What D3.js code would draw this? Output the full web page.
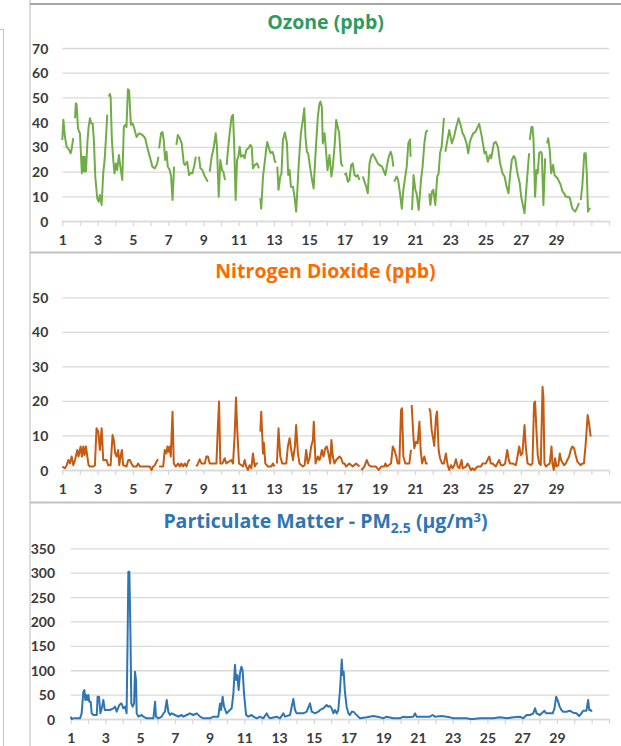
<!DOCTYPE html>
<html><head><meta charset="utf-8">
<script src="https://cdn.jsdelivr.net/npm/d3@7"></script>
<style>
html,body{margin:0;padding:0;background:#fff;}
svg{display:block;}
text{font-family:Lato,"Open Sans",sans-serif;}
</style></head>
<body>
<svg id="chart" width="621" height="746"></svg>
<script>
// ---------- DATA (day of month, hourly readings; null = missing) ----------
const dayTicks = d3.range(1, 33);
const dayLabels = [1,3,5,7,9,11,13,15,17,19,21,23,25,27,29];
const ozoneTicks = [0,10,20,30,40,50,60,70];
const no2Ticks = [0,10,20,30,40,50];
const pmTicks = [0,50,100,150,200,250,300,350];

const ozoneSeries = [
[1.00,32.8],[1.06,41],[1.15,34],[1.25,30],[1.40,28.7],[1.47,27.4],[1.53,29],[1.62,33.5],[1.67,null],
[1.72,41.6],[1.77,47.6],[1.81,47.3],[1.89,37.5],[1.96,36],[2.00,35.5],[2.11,19.3],[2.17,26],[2.23,20],[2.26,26],[2.34,20],[2.42,31.4],[2.49,38],[2.57,41.6],[2.64,39.5],[2.72,39.5],[2.79,32.8],[2.87,18],[2.98,9.2],[3.06,7.8],[3.13,10.5],[3.23,6.5],[3.32,19.3],[3.40,24.7],[3.47,32.8],[3.55,43],[3.60,null],
[3.64,50.3],[3.70,51.4],[3.74,50.3],[3.81,32.8],[3.89,24.7],[3.96,19.3],[4.04,23.3],[4.11,20.6],[4.21,26.7],[4.28,22.7],[4.40,16.6],[4.49,38],[4.57,38.9],[4.64,38],[4.72,53.3],[4.79,52.8],[4.89,38.9],[4.98,39.5],[5.06,38],[5.21,34],[5.36,35.5],[5.55,34.8],[5.70,33.5],[5.81,30],[5.96,26],[6.11,22],[6.25,21.3],[6.38,23.3],[6.45,26],[6.47,null],
[6.49,29.4],[6.60,35.5],[6.68,36],[6.75,32.8],[6.83,24.7],[6.91,28],[6.98,22],[7.09,20.6],[7.17,18],[7.25,8.5],[7.34,22],[7.40,null],
[7.47,30.8],[7.55,34.8],[7.66,33.5],[7.77,31.4],[7.89,23.3],[7.96,22.7],[8.08,24],[8.19,18.6],[8.30,19.5],[8.38,19.3],[8.49,22.7],[8.57,26],[8.66,null],
[8.75,26],[8.83,21.3],[8.94,20.6],[9.09,18],[9.25,15.9],[9.30,null],
[9.36,20],[9.47,26],[9.58,29.4],[9.70,35.5],[9.77,30],[9.87,9.8],[9.96,24.7],[10.06,20.6],[10.13,20],[10.23,16.6],[10.28,null],
[10.32,22.7],[10.42,30.8],[10.49,35.5],[10.60,42.2],[10.68,43],[10.75,30],[10.83,8.5],[10.91,24.7],[10.98,26],[11.06,30],[11.13,26],[11.25,26.7],[11.34,25.4],[11.43,28.7],[11.55,29.4],[11.66,30.8],[11.74,30],[11.81,21.3],[11.92,22.7],[12.04,23.3],[12.15,21.3],[12.19,null],
[12.23,9.2],[12.28,5],[12.38,18],[12.47,23.3],[12.57,29.4],[12.62,32],[12.72,29.4],[12.81,27.4],[12.91,28],[12.98,26.7],[13.06,24],[13.13,23.7],[13.16,null],
[13.19,22],[13.26,12.6],[13.36,18],[13.43,19.3],[13.51,32.8],[13.62,35.8],[13.74,31.4],[13.81,18.6],[13.89,20.6],[13.96,13.9],[14.08,13.9],[14.19,8.5],[14.26,3.8],[14.34,13.9],[14.42,24.7],[14.53,35.5],[14.64,40.9],[14.72,45.6],[14.79,34],[14.87,28],[14.94,27.4],[15.06,21.3],[15.13,18],[15.25,13.2],[15.36,27.4],[15.49,42.2],[15.58,47.4],[15.64,48.3],[15.72,46],[15.77,31.4],[15.87,35.5],[15.92,31.4],[16.04,20.6],[16.15,26.7],[16.26,18],[16.34,22],[16.45,31.4],[16.53,40.9],[16.62,38],[16.70,35.5],[16.81,23.3],[16.91,22],[16.96,null],
[17.00,18.6],[17.09,19.3],[17.19,15.9],[17.28,16.6],[17.38,22.7],[17.47,23.3],[17.57,18.6],[17.66,18],[17.75,18.6],[17.85,16.6],[17.95,null],
[18.04,18],[18.23,13.9],[18.32,11.2],[18.42,23.3],[18.51,26],[18.60,27.1],[18.70,26],[18.89,23.3],[18.98,22.7],[19.13,22],[19.32,18.6],[19.40,22],[19.51,26],[19.62,28],[19.70,26],[19.77,22],[19.80,null],
[19.83,15.9],[19.96,18],[20.04,16.6],[20.15,11.2],[20.25,5],[20.34,12.6],[20.42,16.6],[20.53,22],[20.62,31.4],[20.72,33],[20.75,26],[20.79,null],
[20.83,4.5],[20.92,18.6],[21.02,12.6],[21.09,11.2],[21.21,4.5],[21.34,16.6],[21.43,22],[21.53,31.4],[21.62,36],[21.72,36.8],[21.77,null],
[21.81,11.2],[21.87,6.5],[21.96,11.9],[22.04,12.6],[22.15,6.5],[22.26,18],[22.34,19.3],[22.42,27.4],[22.51,30],[22.64,41.6],[22.68,null],
[22.72,28],[22.79,30.8],[22.94,36.8],[23.09,31.4],[23.21,34],[23.32,37.5],[23.47,41.6],[23.58,38.9],[23.70,35.5],[23.81,34],[23.92,31.4],[24.02,27.4],[24.11,32],[24.21,34],[24.30,35.5],[24.42,36],[24.55,38],[24.64,39.3],[24.79,34],[24.94,27.4],[25.02,28],[25.13,24],[25.25,26.7],[25.32,25.4],[25.47,31.4],[25.58,32],[25.70,30],[25.81,24],[25.96,19.3],[26.08,18],[26.19,13.9],[26.30,11.2],[26.40,19.3],[26.49,24.7],[26.60,26.3],[26.68,25.4],[26.81,19.3],[26.94,15.2],[27.02,9.8],[27.21,3.1],[27.32,13.9],[27.47,27.4],[27.49,null],
[27.51,32.8],[27.60,38],[27.66,38],[27.72,32.8],[27.81,9.8],[27.89,20.6],[27.96,19.3],[28.04,27.4],[28.13,28],[28.19,27.4],[28.28,6.5],[28.38,25.4],[28.44,null],
[28.49,31.4],[28.55,33.5],[28.64,28.7],[28.72,19.3],[28.83,22.7],[28.91,18.6],[29.08,17.3],[29.26,14.6],[29.36,12],[29.45,11.2],[29.55,9.8],[29.64,9.8],[29.77,9.5],[29.92,5],[30.08,3.8],[30.17,5],[30.30,7.2],[30.35,null],
[30.40,8.5],[30.49,14.6],[30.60,27.4],[30.68,27.4],[30.74,19.3],[30.81,3.8],[30.87,5],[30.96,5]
];

const no2Series = [
[1.00,1.0],[1.15,0.5],[1.25,1.4],[1.34,2.9],[1.43,1.9],[1.53,3.9],[1.62,1.4],[1.72,2.9],[1.85,5.8],[1.92,3.9],[2.04,6.8],[2.11,3.9],[2.19,6.8],[2.26,4.3],[2.34,6.8],[2.42,3.9],[2.49,1.4],[2.57,1.0],[2.75,1.0],[2.85,1.4],[2.94,12.1],[3.04,11.1],[3.13,5.8],[3.23,12.1],[3.32,2.9],[3.51,2.9],[3.60,1.4],[3.74,1.4],[3.85,10.1],[3.92,8.7],[4.00,4.8],[4.08,3.9],[4.17,5.8],[4.23,1.4],[4.30,3.9],[4.38,5.8],[4.45,1.4],[4.64,1.0],[4.74,2.9],[4.83,2.9],[4.92,1.9],[5.02,1.0],[5.21,1.0],[5.30,1.9],[5.40,1.0],[5.96,1.0],[6.06,0],[6.15,1.0],[6.25,1.4],[6.34,2.4],[6.43,3.1],[6.46,null],
[6.49,1.0],[6.72,1.0],[6.81,5.8],[6.91,4.8],[6.96,6.8],[7.04,5.3],[7.09,6.8],[7.15,3.9],[7.25,16.9],[7.32,1.9],[7.43,1.0],[7.57,1.9],[7.66,1.0],[7.75,1.9],[7.85,1.0],[7.94,1.9],[8.04,1.0],[8.13,2.4],[8.23,3.1],[8.40,null],
[8.60,1.0],[8.70,1.9],[8.79,3.1],[8.89,1.9],[9.08,1.9],[9.17,3.9],[9.26,3.9],[9.36,1.9],[9.74,1.9],[9.83,13.5],[9.89,19.8],[9.96,1.9],[10.08,1.9],[10.21,3.4],[10.30,1.9],[10.58,2.9],[10.68,1.9],[10.77,9.7],[10.85,21.0],[10.92,11.6],[11.02,1.9],[11.25,1.0],[11.34,2.9],[11.43,1.0],[11.53,0],[11.62,1.4],[11.72,0.5],[11.81,4.8],[11.91,1.0],[12.00,1.9],[12.09,1.9],[12.16,null],
[12.23,11.1],[12.28,16.9],[12.38,4.8],[12.43,7.9],[12.51,1.9],[12.66,1.0],[12.85,1.0],[12.94,1.9],[13.04,1.0],[13.10,null],
[13.17,1.9],[13.26,12.1],[13.36,3.9],[13.47,1.9],[13.70,1.9],[13.79,6.8],[13.89,9.2],[13.98,5.8],[14.08,2.9],[14.19,6.8],[14.26,13.0],[14.36,4.8],[14.45,1.9],[14.64,1.0],[14.74,1.4],[14.83,5.8],[14.92,1.9],[15.02,3.4],[15.11,6.8],[15.21,8.7],[15.26,14.0],[15.36,1.9],[15.49,3.9],[15.58,2.9],[15.62,3.4],[15.72,5.8],[15.81,3.9],[15.91,6.3],[16.00,6.8],[16.11,4.3],[16.19,1.9],[16.26,8.7],[16.34,3.9],[16.43,1.9],[16.53,2.9],[16.72,3.9],[16.81,3.4],[16.91,1.9],[17.00,1.9],[17.09,1.0],[17.28,1.9],[17.47,1.0],[17.66,1.9],[17.85,1.0],[17.91,null],
[17.96,0],[18.13,1.0],[18.26,2.9],[18.38,1.4],[18.51,1.0],[18.79,1.0],[18.94,0],[19.08,1.0],[19.26,1.0],[19.32,1.9],[19.40,1.0],[19.64,1.9],[19.74,6.8],[19.83,5.8],[19.94,3.9],[20.02,1.9],[20.11,1.9],[20.21,17.4],[20.26,17.9],[20.34,3.9],[20.45,1.9],[20.68,1.9],[20.77,5.8],[20.79,null],
[20.81,18.8],[20.91,9.7],[20.96,6.3],[21.06,8.2],[21.15,7.7],[21.25,14.0],[21.32,5.8],[21.40,1.9],[21.53,3.9],[21.62,1.9],[21.72,1.9],[21.77,null],
[21.81,17.9],[21.87,16.9],[21.94,11.6],[22.04,8.7],[22.09,7.0],[22.19,15.4],[22.25,16.9],[22.34,5.8],[22.42,3.4],[22.53,1.9],[22.64,1.9],[22.75,4.8],[22.85,1.4],[22.94,0],[23.04,1.4],[23.13,0.5],[23.23,1.4],[23.32,3.1],[23.42,1.0],[23.51,0.5],[23.64,2.9],[23.70,0.5],[23.89,1.0],[23.98,1.9],[24.08,1.0],[24.17,0],[24.26,0.5],[24.36,0],[24.55,1.0],[24.74,1.0],[24.83,1.9],[25.02,1.9],[25.11,2.9],[25.21,3.9],[25.30,1.9],[25.40,1.9],[25.58,1.0],[25.77,2.9],[25.87,1.4],[26.00,1.4],[26.11,1.9],[26.23,5.8],[26.30,3.4],[26.38,1.9],[26.53,1.9],[26.72,1.4],[26.81,3.9],[26.91,6.8],[27.00,4.3],[27.09,4.8],[27.21,13.0],[27.28,6.8],[27.38,1.9],[27.57,1.4],[27.66,1.9],[27.75,19.3],[27.81,19.8],[27.89,11.1],[27.96,4.3],[28.04,1.9],[28.13,1.4],[28.23,24.1],[28.28,21.2],[28.34,1.9],[28.42,1.0],[28.51,1.4],[28.64,1.9],[28.74,6.8],[28.79,1.9],[28.87,0],[28.94,3.4],[29.02,1.0],[29.13,1.4],[29.21,4.8],[29.28,2.9],[29.45,1.4],[29.55,1.9],[29.64,2.9],[29.74,3.9],[29.83,5.8],[29.92,6.8],[30.02,6.3],[30.11,4.3],[30.21,2.4],[30.30,1.9],[30.40,1.4],[30.49,1.9],[30.58,1.9],[30.68,7.7],[30.79,15.9],[30.87,13.5],[30.96,9.7]
];

const pmSeries = [
[1.00,4.8],[1.06,0],[1.15,1.4],[1.54,1.4],[1.63,11.6],[1.73,56],[1.79,59.5],[1.84,39],[1.90,49],[1.96,39],[2.02,49],[2.07,35.6],[2.15,35.6],[2.21,11.6],[2.31,8.2],[2.50,8.2],[2.55,45.8],[2.63,45.8],[2.71,11.6],[2.79,21.9],[2.88,39],[2.96,18.5],[3.26,18.5],[3.46,21.9],[3.55,25.3],[3.65,15],[3.80,28.7],[3.92,32],[4.03,21.9],[4.13,25.3],[4.22,11.6],[4.28,176],[4.32,302],[4.38,302],[4.44,176],[4.49,32],[4.57,25.3],[4.65,32],[4.70,97],[4.76,80],[4.80,11.6],[4.90,4.8],[5.09,8.2],[5.18,4.8],[5.38,1.4],[5.76,1.4],[5.86,35.6],[5.91,4.8],[6.05,1.4],[6.24,4.8],[6.34,11.6],[6.43,15],[6.53,39],[6.62,15],[6.72,8.2],[6.82,11.6],[7.01,8.2],[7.20,4.8],[7.39,8.2],[7.49,4.8],[7.68,8.2],[7.87,11.6],[8.06,8.2],[8.26,11.6],[8.45,4.8],[8.64,1.4],[9.02,1.4],[9.22,4.8],[9.50,4.8],[9.60,32],[9.66,18.5],[9.75,45.8],[9.83,25.3],[9.98,11.6],[10.17,18.5],[10.27,21.9],[10.37,52.7],[10.46,111],[10.52,80],[10.60,90],[10.67,59.5],[10.75,94],[10.83,107],[10.90,100],[10.98,52.7],[11.10,8.2],[11.23,4.8],[11.42,8.2],[11.52,4.8],[11.71,1.4],[11.90,4.8],[12.09,1.4],[12.29,11.6],[12.38,4.8],[12.48,1.4],[12.86,4.8],[13.05,1.4],[13.25,11.6],[13.34,4.8],[13.63,8.2],[13.82,41],[13.92,18.5],[14.01,11.6],[14.40,11.6],[14.59,15],[14.78,32],[14.88,15],[15.07,11.6],[15.26,15],[15.36,18.5],[15.55,21.9],[15.74,28.7],[15.84,25.3],[15.93,26.7],[16.03,21.9],[16.13,11.6],[16.22,18.5],[16.32,11.6],[16.41,18.5],[16.51,59.5],[16.61,122],[16.66,90],[16.72,97],[16.79,56],[16.89,25.3],[16.99,11.6],[17.08,8.2],[17.18,15],[17.28,15],[17.37,11.6],[17.56,4.8],[17.66,1.4],[18.05,3.4],[18.43,6.2],[18.81,3.4],[19.00,1.4],[19.19,4.8],[19.58,1.4],[19.96,1.4],[20.15,4.8],[20.34,3.4],[20.73,4.8],[20.83,11.6],[20.92,4.8],[21.30,4.8],[21.69,4.8],[21.84,8.2],[21.97,4.8],[22.36,6.2],[22.65,4.8],[22.84,3.4],[23.04,1.4],[23.42,1.4],[23.81,1.4],[24.00,0],[24.19,0],[24.57,1.4],[24.96,1.4],[25.34,1.4],[25.72,3.4],[26.11,1.4],[26.49,3.4],[26.87,4.8],[27.06,1.4],[27.26,8.2],[27.45,8.2],[27.64,11.6],[27.74,21.9],[27.83,11.6],[28.02,8.2],[28.22,15],[28.28,17],[28.37,11.6],[28.47,11.6],[28.76,11.6],[28.86,21.9],[28.96,45.8],[29.07,35.6],[29.16,25.3],[29.26,18.5],[29.35,15],[29.55,15],[29.74,17],[29.93,13],[30.12,11.6],[30.28,6.2],[30.41,11.6],[30.51,17],[30.70,17],[30.80,39],[30.86,18.5],[30.95,18.5],[31.01,15]
];

// ---------- DRAWING ----------
const svg = d3.select("#chart");
const W = 621;

// page frame elements
const frame = svg.append("g");
frame.append("line").attr("x1",0).attr("x2",4).attr("y1",29.5).attr("y2",29.5).attr("stroke","#c4c4c4").attr("stroke-width",1);
frame.append("line").attr("x1",3.5).attr("x2",3.5).attr("y1",29.5).attr("y2",746).attr("stroke","#c4c4c4").attr("stroke-width",1);
frame.append("line").attr("x1",30).attr("x2",30).attr("y1",0).attr("y2",746).attr("stroke","#d0d0d0").attr("stroke-width",1.5);
frame.append("line").attr("x1",30).attr("x2",W).attr("y1",4).attr("y2",4).attr("stroke","#a6a6a6").attr("stroke-width",1.8);
frame.append("line").attr("x1",30).attr("x2",W).attr("y1",252.5).attr("y2",252.5).attr("stroke","#c2c2c2").attr("stroke-width",2);
frame.append("line").attr("x1",30).attr("x2",W).attr("y1",502.5).attr("y2",502.5).attr("stroke","#c2c2c2").attr("stroke-width",2);

function panel(opts){
  const g = svg.append("g");
  const x = d3.scaleLinear().domain([1,32]).range([opts.x0, 609]);
  const y = d3.scaleLinear().domain([0, opts.ymax]).range([opts.y0, opts.y1]);
  // gridlines + y labels
  const ya = d3.axisLeft(y).tickValues(opts.yTicks).tickSize(-(609-opts.x0)).tickPadding(opts.pad).tickFormat(d3.format("d"));
  const yg = g.append("g").attr("transform",`translate(${opts.x0},0)`).call(ya);
  yg.select(".domain").remove();
  yg.selectAll(".tick line").attr("stroke","#d9d9d9").attr("stroke-width",1.3);
  yg.selectAll(".tick text").attr("fill","#3a3a3a").style("font-size","14px").style("font-weight","700").attr("dy","0.36em");
  // x axis
  const xa = d3.axisBottom(x).tickValues(dayTicks).tickSize(5).tickSizeOuter(0).tickPadding(9)
     .tickFormat(d => dayLabels.includes(d) ? d : "");
  const xg = g.append("g").attr("transform",`translate(0,${opts.y0})`).call(xa);
  xg.select(".domain").attr("stroke","#d9d9d9").attr("stroke-width",1.3);
  xg.selectAll(".tick line").attr("stroke","#d9d9d9").attr("stroke-width",1.3);
  xg.selectAll(".tick text").attr("fill","#3a3a3a").style("font-size","14px").style("font-weight","700");
  // series
  const line = d3.line().defined(d => d[1] !== null).x(d => x(d[0])).y(d => y(d[1]));
  g.append("path").datum(opts.data).attr("d", line).attr("fill","none")
    .attr("stroke", opts.color).attr("stroke-width", 2).attr("stroke-linejoin","round");
  // title
  const t = g.append("text").attr("x", 325.5).attr("y", opts.ty).attr("text-anchor","middle")
    .attr("fill", opts.tcolor).style("font-family","'Open Sans',sans-serif").style("font-size","19.5px").style("font-weight","700");
  opts.title(t);
}

panel({x0:62.3, y0:221, y1:48, ymax:70, yTicks:ozoneTicks, pad:14, data:ozoneSeries, color:"#70ad47",
  tcolor:"#2f9a60", ty:29, title:t => t.text("Ozone (ppb)")});
panel({x0:62.3, y0:470, y1:297.3, ymax:50, yTicks:no2Ticks, pad:14, data:no2Series, color:"#c55a11",
  tcolor:"#ff6a00", ty:278, title:t => t.text("Nitrogen Dioxide (ppb)")});
panel({x0:70.7, y0:719, y1:548.3, ymax:350, yTicks:pmTicks, pad:15.7, data:pmSeries, color:"#2e75b6",
  tcolor:"#2e75b6", ty:528, title:t => {
    t.append("tspan").text("Particulate Matter - PM");
    t.append("tspan").text("2.5").style("font-size","14px").attr("dy", 5);
    t.append("tspan").text(" (µg/m").attr("dy", -5);
    t.append("tspan").text("3").style("font-size","13px").attr("dy", -6);
    t.append("tspan").text(")").attr("dy", 6);
  }});
</script>
</body></html>
